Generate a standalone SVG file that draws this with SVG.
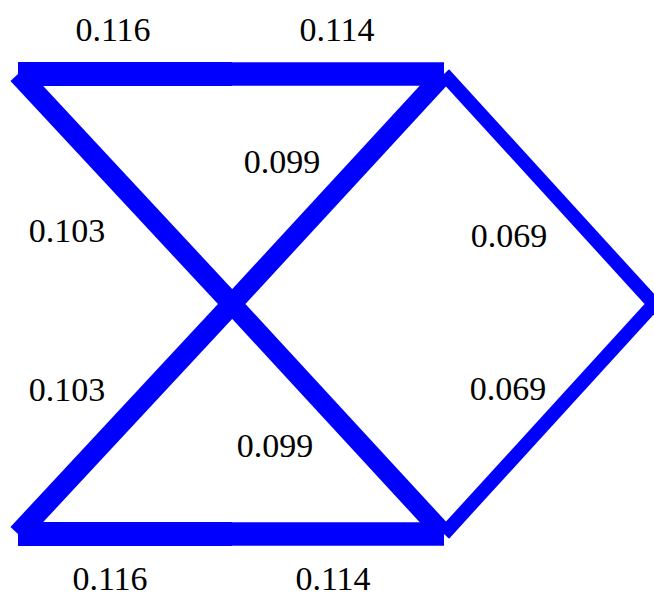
<svg xmlns="http://www.w3.org/2000/svg" width="654" height="597" viewBox="0 0 654 597">
<style>
.e{stroke:#0000ff;fill:none;stroke-linecap:butt}
</style>
<rect width="654" height="597" fill="#fff"/>
<g id="connectors">
<line class="e" x1="18" y1="74" x2="232" y2="74" stroke-width="24"/>
<line class="e" x1="232" y1="74" x2="444" y2="74" stroke-width="23.6"/>
<line class="e" x1="18" y1="74" x2="232" y2="304" stroke-width="20.6"/>
<line class="e" x1="444" y1="74" x2="232" y2="304" stroke-width="19.8"/>
<line class="e" x1="444" y1="74" x2="654" y2="304" stroke-width="13.8"/>
<line class="e" x1="654" y1="304" x2="444" y2="534" stroke-width="13.8"/>
<line class="e" x1="232" y1="304" x2="18" y2="534" stroke-width="20.6"/>
<line class="e" x1="232" y1="304" x2="444" y2="534" stroke-width="19.8"/>
<line class="e" x1="18" y1="534" x2="232" y2="534" stroke-width="24"/>
<line class="e" x1="232" y1="534" x2="444" y2="534" stroke-width="23.6"/>
</g>
<g id="labels" font-family="Liberation Serif, Times New Roman, Times, serif" font-size="34" fill="#000" text-anchor="middle">
<text x="113" y="41">0.116</text>
<text x="337" y="41">0.114</text>
<text x="282" y="173">0.099</text>
<text x="67" y="242">0.103</text>
<text x="509" y="247">0.069</text>
<text x="67" y="401">0.103</text>
<text x="508" y="400">0.069</text>
<text x="275" y="457">0.099</text>
<text x="110" y="590">0.116</text>
<text x="333" y="590">0.114</text>
</g>
</svg>
